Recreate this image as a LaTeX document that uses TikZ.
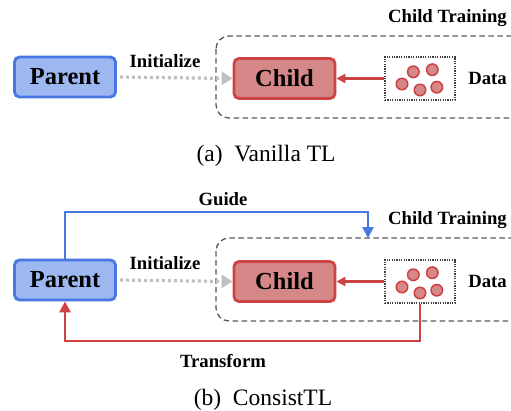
\documentclass[tikz,border=0pt]{standalone}
\usepackage{fontspec}
\setmainfont{Liberation Serif}
\usetikzlibrary{arrows.meta}
\definecolor{pblue}{RGB}{157,184,240}
\definecolor{pbord}{RGB}{72,118,226}
\definecolor{cred}{RGB}{214,136,136}
\definecolor{cbord}{RGB}{205,66,66}
\definecolor{igray}{RGB}{192,192,192}
\begin{document}
\begin{tikzpicture}[x=1pt,y=-1pt,
  box/.style={draw, line width=2.8pt, rounded corners=5pt, minimum width=101pt, minimum height=40pt, font=\fontsize{24.5}{28}\selectfont\bfseries, inner sep=0pt},
  pbox/.style={box, fill=pblue, draw=pbord},
  cbox/.style={box, fill=cred, draw=cbord},
  lbl/.style={font=\fontsize{18.7}{22}\selectfont\bfseries, inner sep=0pt},
  captext/.style={font=\fontsize{23.5}{26}\selectfont, inner sep=0pt},
  databox/.style={draw=black!75, dash pattern=on 1.2pt off 1.2pt, line width=1.1pt, minimum width=70pt, minimum height=43pt, inner sep=0pt},
  ddot/.style={circle, draw=cbord, fill=cred, line width=1.5pt, minimum size=11.5pt, inner sep=0pt},
  trainbox/.style={draw=black!65, dash pattern=on 5.5pt off 3.5pt, line width=1.3pt, rounded corners=13pt},
  initarrow/.style={draw=igray, line width=3.2pt, dash pattern=on 3pt off 3pt, -{Triangle[length=11pt,width=13pt,fill=igray]}, shorten <=3pt},
  dataarrow/.style={draw=cbord, line width=2.2pt, -{Triangle[length=9pt,width=9pt]}},
  guidearrow/.style={draw=pbord, line width=2.8pt, -{Triangle[length=11pt,width=11pt]}},
  transarrow/.style={draw=cbord, line width=2.8pt, -{Triangle[length=11pt,width=11pt]}},
]
\useasboundingbox (0,0) rectangle (511,410);

% ---------- panel (a) ----------
\draw[trainbox] (216,36) rectangle (540,118);
\node[lbl] (cta) at (447.5,18) {Child Training};
\node[pbox] (pa) at (65,77) {Parent};
\node[cbox] (ca) at (284.5,78.5) {Child};
\node[databox] (da) at (420,78.5) {};
\node[lbl] (dla) at (487.5,78) {Data};
\foreach \dx/\dy [count=\i] in {-18/5.5, -6.7/-6.7, 12.3/-8.8, 0/11.5, 16.8/8.7}
  \node[ddot] (dota\i) at ([shift={(\dx,\dy)}]da.center) {};
\node[lbl] (ila) at (165,61) {Initialize};
\draw[initarrow] (pa.east) -- (ca.west);
\draw[dataarrow] (da.west) -- (ca.east);
\node[captext] (capa) at (266,156) {(a)\hspace{0.5em}Vanilla TL};

% ---------- panel (b) ----------
\draw[trainbox] (216,238) rectangle (540,321);
\node[lbl] (ctb) at (447.5,220) {Child Training};
\node[pbox] (pb) at (65,280) {Parent};
\node[cbox] (cb) at (284.5,281.5) {Child};
\node[databox] (db) at (420,281.5) {};
\node[lbl] (dlb) at (487.5,281) {Data};
\foreach \dx/\dy [count=\i] in {-18/5.5, -6.7/-6.7, 12.3/-8.8, 0/11.5, 16.8/8.7}
  \node[ddot] (dotb\i) at ([shift={(\dx,\dy)}]db.center) {};
\node[lbl] (ilb) at (165,263) {Initialize};
\draw[initarrow] (pb.east) -- (cb.west);
\draw[dataarrow] (db.west) -- (cb.east);
\coordinate (gend) at (368,238);
\draw[guidearrow] (pb.north) -- (65,212) -| (gend);
\node[lbl] (gl) at (223,199) {Guide};
\draw[transarrow] (db.south) -- (420,341) -| (pb.south);
\node[lbl] (tl) at (223,361) {Transform};
\node[captext] (capb) at (263,400) {(b)\hspace{0.5em}ConsistTL};
\end{tikzpicture}
\end{document}
